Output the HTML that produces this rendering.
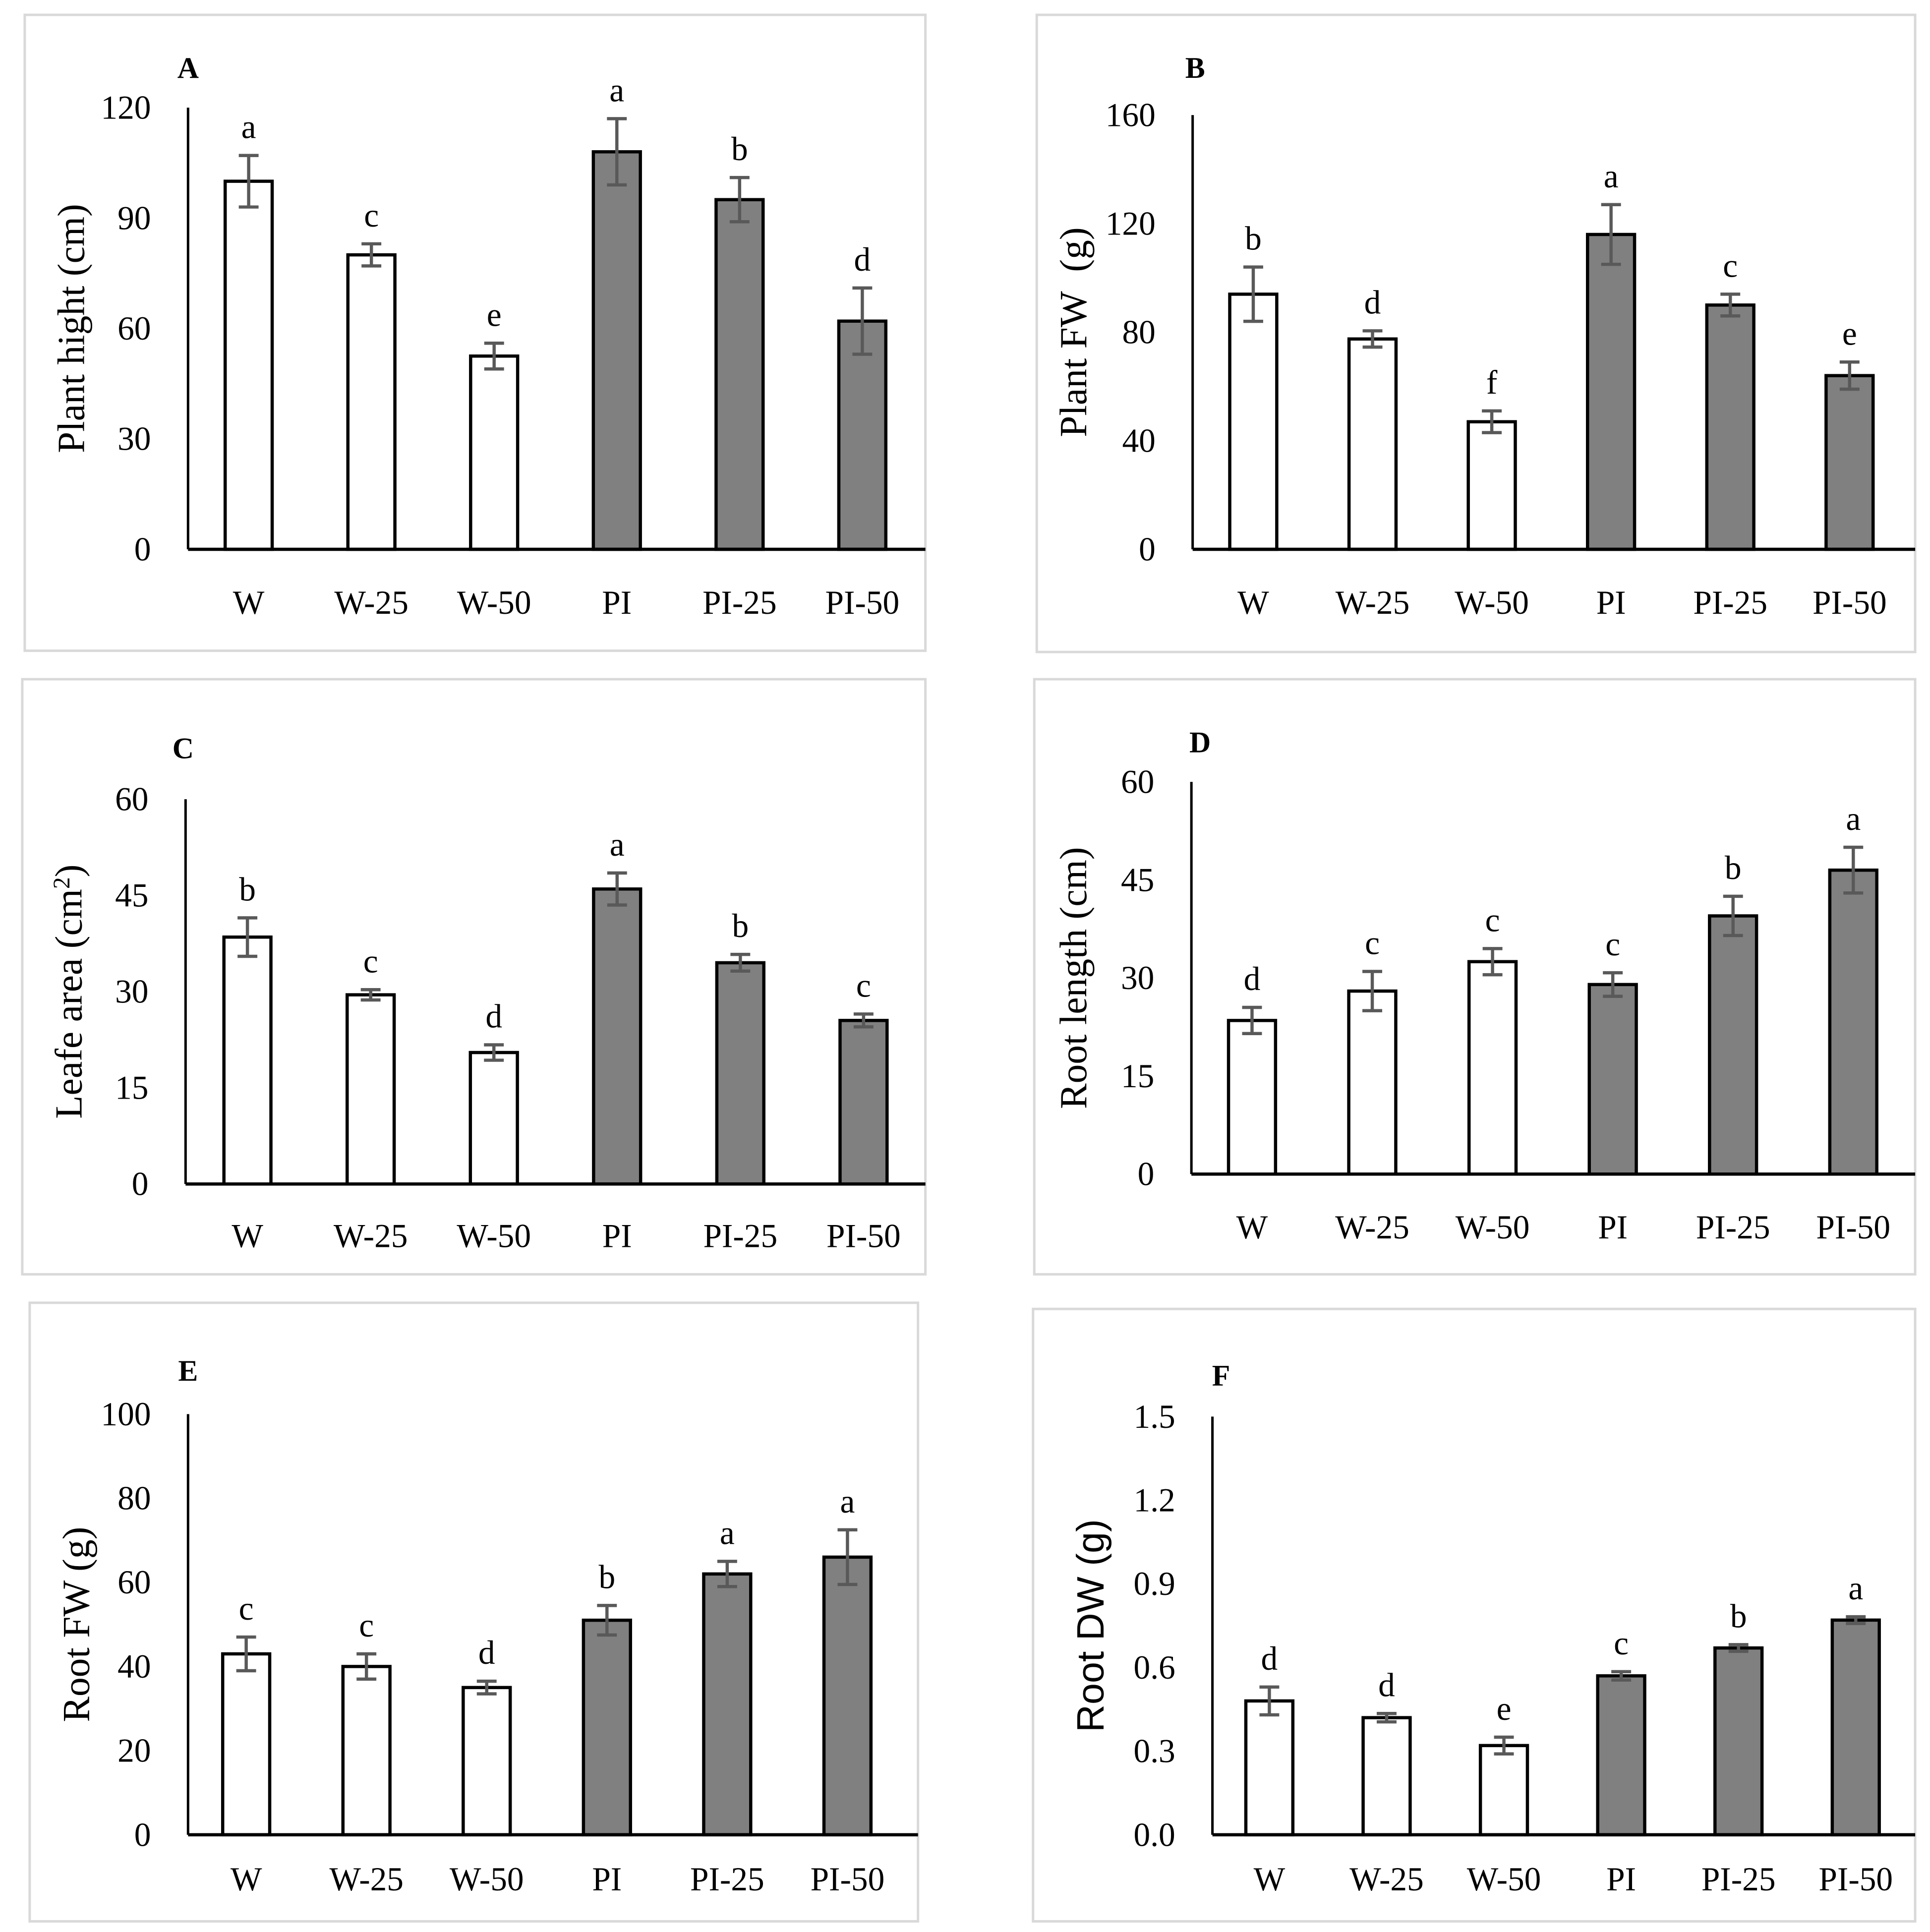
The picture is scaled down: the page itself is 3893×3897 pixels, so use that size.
<!DOCTYPE html>
<html><head><meta charset="utf-8"><style>
html,body{margin:0;padding:0;background:#fff}
svg{display:block}
text{font-family:"Liberation Serif",serif;fill:#000}
</style></head><body>
<svg id="fig" width="3893" height="3897" viewBox="0 0 1560 1561.6" xmlns="http://www.w3.org/2000/svg"></svg>
<script>
const categories = ["W","W-25","W-50","PI","PI-25","PI-50"];
const valuesA = [100,80,52.5,108,95,62];
const errorsA = [7,3,3.5,9,6,9];
const lettersA = ["a","c","e","a","b","d"];
const ticksA = [0,30,60,90,120];
const valuesB = [94,77.5,47,116,90,64];
const errorsB = [10,3,4,11,4,5];
const lettersB = ["b","d","f","a","c","e"];
const ticksB = [0,40,80,120,160];
const valuesC = [38.5,29.5,20.5,46,34.5,25.5];
const errorsC = [3,0.8,1.2,2.5,1.3,1];
const lettersC = ["b","c","d","a","b","c"];
const ticksC = [0,15,30,45,60];
const valuesD = [23.5,28,32.5,29,39.5,46.5];
const errorsD = [2,3,2,1.8,3,3.5];
const lettersD = ["d","c","c","c","b","a"];
const ticksD = [0,15,30,45,60];
const valuesE = [43,40,35,51,62,66];
const errorsE = [4,3,1.5,3.5,3,6.5];
const lettersE = ["c","c","d","b","a","a"];
const ticksE = [0,20,40,60,80,100];
const valuesF = [0.48,0.42,0.32,0.57,0.67,0.77];
const errorsF = [0.05,0.015,0.03,0.015,0.012,0.012];
const lettersF = ["d","d","e","c","b","a"];
const ticksF = [0,0.3,0.6,0.9,1.2,1.5];
const ticksFLabels = ["0.0","0.3","0.6","0.9","1.2","1.5"];

const svg = document.getElementById('fig');
const NS = 'http://www.w3.org/2000/svg';
function mk(tag, attrs, parent){
  const e = document.createElementNS(NS, tag);
  for (const k in attrs) e.setAttribute(k, attrs[k]);
  parent.appendChild(e); return e;
}

function panel(cfg){
  const g = mk('g', {}, svg);
  
  
  const box = mk('rect', {x:cfg.box[0], y:cfg.box[1], width:cfg.box[2]-cfg.box[0], height:cfg.box[3]-cfg.box[1], fill:'#fff', stroke:'#d9d9d9', 'stroke-width':2}, g);
  
  
  const maxV = cfg.ticks[cfg.ticks.length-1];
  const y = v => cfg.base - (v / maxV) * (cfg.base - cfg.top);
  const x = i => cfg.x0 + i * cfg.dx;
  const pl = mk('text', {x:cfg.letter[0], y:cfg.letter[1], 'font-size':24, 'font-weight':'bold', 'text-anchor':'middle'}, g);
  pl.textContent = cfg.id;
  
  
  cfg.ticks.forEach((t, i) => {
    const tl = mk('text', {x:cfg.axisX - 30, y:y(t) + 9, 'font-size':27, 'text-anchor':'end'}, g);
    tl.textContent = cfg.tickLabels ? cfg.tickLabels[i] : String(t);
    
    
  });
  const yt = mk('text', {x:0, y:0, 'font-size':31, 'text-anchor':'middle', transform:`translate(${cfg.titleX},${(cfg.top+cfg.base)/2}) rotate(-90)`}, g);
  if (cfg.titleSans) yt.setAttribute('style', 'font-family:"Liberation Sans",sans-serif');
  yt.innerHTML = cfg.title;
  
  
  cfg.values.forEach((v, i) => {
    const cx = x(i);
    const b = mk('rect', {x:cx-19, y:y(v), width:38, height:cfg.base - y(v), fill: i < 3 ? '#fff' : '#808080', stroke:'#000', 'stroke-width':2.6}, g);
    
    
    const e = cfg.errors[i];
    const eg = mk('g', {stroke:'#595959', 'stroke-width':2.6}, g);
    
    
    mk('line', {x1:cx, x2:cx, y1:y(v+e), y2:y(v-e)}, eg);
    mk('line', {x1:cx-8, x2:cx+8, y1:y(v+e), y2:y(v+e)}, eg);
    mk('line', {x1:cx-8, x2:cx+8, y1:y(v-e), y2:y(v-e)}, eg);
    const lt = mk('text', {x:cx, y:y(v+e) - 14, 'font-size':27, 'text-anchor':'middle'}, g);
    lt.textContent = cfg.letters[i];
    
    
    const ct = mk('text', {x:cx, y:cfg.catY, 'font-size':27, 'text-anchor':'middle'}, g);
    ct.textContent = categories[i];
    
    
  });
  const ya = mk('line', {x1:cfg.axisX, x2:cfg.axisX, y1:cfg.top, y2:cfg.base, stroke:'#000', 'stroke-width':2}, g);
  
  
  const xa = mk('line', {x1:cfg.axisX, x2:cfg.box[2], y1:cfg.base, y2:cfg.base, stroke:'#000', 'stroke-width':2.6}, g);
  
  
}

panel({id:'A', box:[20,12,748,526], axisX:152, base:444, top:87, x0:201, dx:99.2, catY:496, titleX:68, letter:[152,63], title:'Plant hight (cm)', values:valuesA, errors:errorsA, letters:lettersA, ticks:ticksA});
panel({id:'B', box:[838,12,1548,527], axisX:964, base:444, top:93, x0:1013, dx:96.4, catY:496, titleX:878, letter:[966,63], title:'Plant FW&#160; (g)', values:valuesB, errors:errorsB, letters:lettersB, ticks:ticksB});
panel({id:'C', box:[18,549,748,1030], axisX:150, base:957, top:646, x0:200, dx:99.6, catY:1008, titleX:66, letter:[148,613], title:'Leafe area (cm<tspan dy="-10" font-size="19">2</tspan><tspan dy="10">)</tspan>', values:valuesC, errors:errorsC, letters:lettersC, ticks:ticksC});
panel({id:'D', box:[836,549,1548,1030], axisX:963, base:949, top:632, x0:1012, dx:97.2, catY:1001, titleX:878, letter:[970,608], title:'Root length (cm)', values:valuesD, errors:errorsD, letters:lettersD, ticks:ticksD});
panel({id:'E', box:[24,1053,742,1553], axisX:152, base:1483, top:1143, x0:199, dx:97.2, catY:1528, titleX:72, letter:[152,1116], title:'Root FW (g)', values:valuesE, errors:errorsE, letters:lettersE, ticks:ticksE});
panel({id:'F', box:[835,1058,1548,1553], axisX:980, base:1483, top:1145, x0:1026, dx:94.8, catY:1528, titleX:892, letter:[987,1120], title:'Root DW (g)', titleSans:true, values:valuesF, errors:errorsF, letters:lettersF, ticks:ticksF, tickLabels:ticksFLabels});
</script>
</body></html>
